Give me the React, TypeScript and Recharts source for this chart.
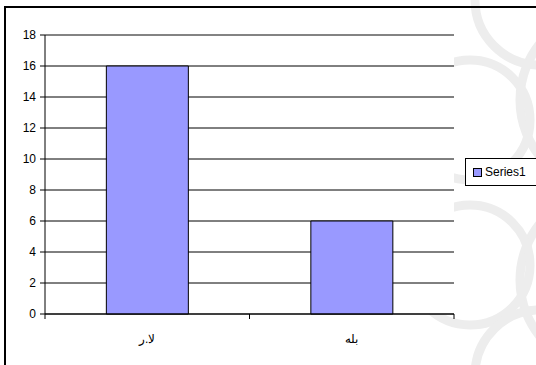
import React from 'react';
import { BarChart, Bar, XAxis, YAxis, CartesianGrid, ReferenceLine } from 'recharts';

const categories = ['لا.ر', 'بله'];
const series1 = [16, 6];
const yTicks = [0, 2, 4, 6, 8, 10, 12, 14, 16, 18];
const yMax = 18;

const data = categories.map((name, i) => ({ name, Series1: series1[i] }));

const FONT = '"Liberation Sans", Arial, sans-serif';

const CatTick = (props: any) => {
  const { x, y, payload, index, visibleTicksCount } = props;
  const off = payload && typeof payload.offset === 'number' ? payload.offset : 0;
  const isLast = index === (visibleTicksCount ?? categories.length) - 1;
  return (
    <g>
      <line x1={x - off} x2={x - off} y1={y} y2={y + 5} stroke="#000" />
      {isLast && <line x1={x + off} x2={x + off} y1={y} y2={y + 5} stroke="#000" />}
      <text x={x} y={y + 29} textAnchor="middle" fontSize={12} fontFamily={FONT} fill="#000">
        {payload.value}
      </text>
    </g>
  );
};

const LegendBox = () => (
  <div
    style={{
      position: 'absolute',
      left: 465,
      top: 158,
      width: 75,
      height: 28,
      border: '1px solid #000',
      background: '#fff',
      boxSizing: 'border-box',
      display: 'flex',
      alignItems: 'center',
      fontFamily: FONT,
      fontSize: 12,
      color: '#000',
    }}
  >
    <span
      style={{
        display: 'inline-block',
        width: 7,
        height: 7,
        background: '#9999FF',
        border: '1px solid #000',
        marginLeft: 7,
        marginRight: 3,
      }}
    />
    <span>Series1</span>
  </div>
);

const Watermark = () => (
  <svg width={536} height={365} style={{ position: 'absolute', left: 0, top: 0 }}>
    <g fill="none" stroke="#ededed" strokeWidth={9}>
      <circle cx={610} cy={100} r={90} />
      <circle cx={610} cy={280} r={90} />
      <circle cx={470} cy={120} r={60} />
      <circle cx={470} cy={265} r={60} />
      <circle cx={540} cy={0} r={65} />
      <circle cx={540} cy={375} r={65} />
    </g>
  </svg>
);

export default function App() {
  return (
    <div
      style={{
        position: 'absolute',
        left: 0,
        top: 0,
        width: 536,
        height: 365,
        overflow: 'hidden',
        background: '#fff',
      }}
    >
      <Watermark />
      <div
        style={{
          position: 'absolute',
          left: 4,
          top: 6,
          width: 700,
          height: 500,
          borderStyle: 'solid',
          borderColor: '#000',
          borderWidth: '2px 0 0 2px',
        }}
      />
      <div style={{ position: 'absolute', left: 0, top: 0 }}>
        <BarChart
          width={536}
          height={365}
          data={data}
          margin={{ top: 35, right: 82, bottom: 0, left: 0 }}
          barCategoryGap="30%"
        >
          <CartesianGrid vertical={false} stroke="#000" fill="#fff" />
          <YAxis
            width={45}
            domain={[0, yMax]}
            ticks={yTicks}
            interval={0}
            axisLine={{ stroke: '#000' }}
            tickLine={{ stroke: '#000' }}
            tickSize={5}
            tickMargin={4}
            tick={{ fill: '#000', fontSize: 12, fontFamily: FONT }}
          />
          <YAxis
            yAxisId="frame"
            orientation="right"
            width={0}
            domain={[0, yMax]}
            axisLine={{ stroke: '#888' }}
            tickLine={false}
            tick={false}
          />
          <XAxis
            dataKey="name"
            height={51}
            axisLine={{ stroke: '#000' }}
            tickLine={false}
            tickSize={0}
            tickMargin={0}
            interval={0}
            tick={<CatTick />}
          />
          <ReferenceLine y={yMax} stroke="#888" />
          <Bar dataKey="Series1" fill="#9999FF" stroke="#000" strokeWidth={1} isAnimationActive={false} />
        </BarChart>
      </div>
      <LegendBox />
    </div>
  );
}
